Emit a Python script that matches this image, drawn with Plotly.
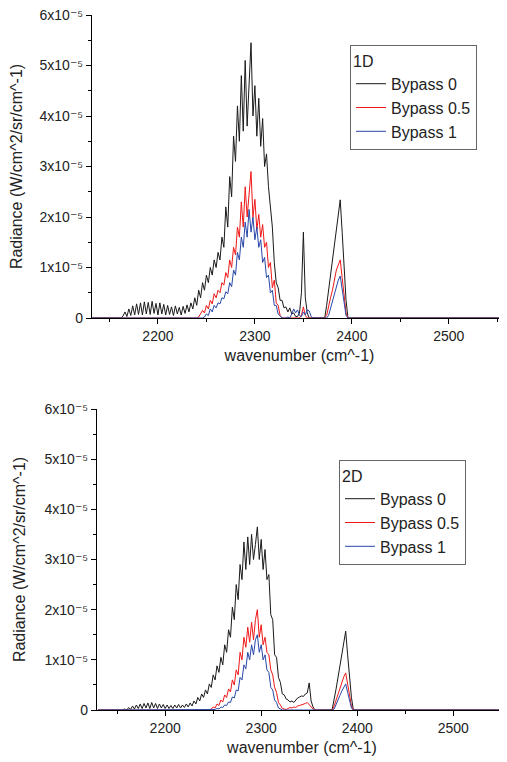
import plotly.graph_objects as go

# Wavenumber sampling grid (cm^-1); radiance values below are in units of 1e-6 W/cm^2/sr/cm^-1
WN = list(range(2130, 2402, 2)) + [2560]

# ---- 1D case ----
D1_BYPASS_0 = [
    0, 0, 0, 0, 0, 0, 0, 0, 0, 0,
    0, 0, 0, 0, 0, 0, 0, 0.4, 1.2, 0.3,
    1.8, 0.5, 2.4, 0.6, 2.8, 0.7, 3.0, 0.6, 3.2, 0.8,
    3.1, 0.7, 3.3, 0.9, 2.9, 0.6, 3.0, 0.8, 2.7, 0.6,
    2.5, 0.7, 2.2, 0.5, 2.4, 0.8, 2.1, 0.6, 2.3, 0.9,
    2.6, 1.2, 3.0, 1.8, 4.0, 2.5, 5.5, 4.0, 7.0, 5.5,
    8.5, 7.0, 10, 8.5, 11.5, 10, 13, 11.5, 16, 14,
    22, 18, 28, 24, 36, 31, 42, 35, 48, 37,
    51, 38, 47, 54.5, 40, 46, 36, 43.5, 34, 39.5,
    30, 32.5, 26, 22, 18, 11, 7, 6, 3.5, 3.5,
    2, 2.2, 1.2, 2.0, 0.8, 1.0, 0.3, 0.3, 1.0, 5,
    17, 4, 1, 0, 0, 0, 0, 0, 0, 0,
    0, 0, 2.5, 5.5, 8.5, 11.5, 14.5, 17.5, 20.5, 23.4,
    17, 10, 3.5, 0, 0, 0,
    0,
]
D1_BYPASS_05 = [
    0, 0, 0, 0, 0, 0, 0, 0, 0, 0,
    0, 0, 0, 0, 0, 0, 0, 0, 0, 0,
    0, 0, 0, 0, 0, 0, 0, 0, 0, 0,
    0, 0, 0, 0, 0, 0, 0, 0, 0, 0,
    0, 0, 0, 0, 0, 0, 0, 0, 0, 0,
    0, 0, 0, 0, 0, 0, 0.2, 0.8, 1.5, 1.0,
    2.5, 1.8, 3.5, 2.8, 4.8, 4.0, 5.5, 5.0, 7.0, 6.5,
    9, 8, 11.5, 10, 14, 12.5, 18, 16, 23, 18,
    26, 20, 25, 29, 20, 23.5, 17.5, 20.5, 16, 18.5,
    14, 15, 10, 11, 6, 7.5, 3, 2.5, 0.5, 0,
    0, 0, 0, 0, 0, 0, 0, 0, 0, 0.5,
    2.2, 0.5, 0, 0, 0, 0, 0, 0, 0, 0,
    0, 0, 0.5, 2.5, 4.0, 5.5, 7.5, 9.5, 10.5, 11.5,
    8, 4.5, 1, 0, 0, 0,
    0,
]
D1_BYPASS_1 = [
    0, 0, 0, 0, 0, 0, 0, 0, 0, 0,
    0, 0, 0, 0, 0, 0, 0, 0, 0, 0,
    0, 0, 0, 0, 0, 0, 0, 0, 0, 0,
    0, 0, 0, 0, 0, 0, 0, 0, 0, 0,
    0, 0, 0, 0, 0, 0, 0, 0, 0, 0,
    0, 0, 0, 0, 0, 0, 0, 0, 0, 0.2,
    0.8, 0.5, 1.8, 1.2, 2.5, 2.0, 3.0, 2.8, 4.0, 3.8,
    5.2, 4.8, 7, 6.2, 9.5, 8.5, 13, 11.5, 16, 14,
    19, 16, 21.5, 17, 20, 15.5, 18, 14, 15.5, 11,
    12, 8, 8.5, 5, 5.5, 2.5, 2.5, 0.8, 0.3, 0,
    0, 0, 0.2, 0, 0.8, 1.8, 1.0, 1.6, 0.5, 0.3,
    1.2, 0.6, 1.6, 1.4, 0.3, 0, 0, 0, 0, 0,
    0, 0, 0, 0.5, 2, 3.5, 5, 6.5, 7.5, 8.3,
    5.5, 2.5, 0.5, 0, 0, 0,
    0,
]

# ---- 2D case ----
D2_BYPASS_0 = [
    0, 0, 0, 0, 0, 0, 0, 0, 0, 0,
    0, 0, 0, 0, 0.2, 0, 0.5, 0.1, 0.8, 0.2,
    1.0, 0.3, 1.2, 0.3, 1.3, 0.4, 1.4, 0.3, 1.5, 0.4,
    1.3, 0.3, 1.2, 0.4, 1.1, 0.3, 1.0, 0.3, 0.9, 0.3,
    1.0, 0.4, 1.1, 0.4, 1.0, 0.5, 1.2, 0.6, 1.4, 0.8,
    1.8, 1.2, 2.5, 1.8, 3.2, 2.5, 4.0, 3.2, 5.2, 4.5,
    7.0, 6.0, 8.8, 7.5, 10.5, 9.0, 13, 11.5, 16, 14.5,
    20.5, 18, 25, 22, 29, 26, 33.5, 28, 34.5, 29,
    35, 30, 33, 36.5, 30, 34, 28, 32, 26, 27,
    19, 18, 11, 10.5, 6.5, 5.5, 3.2, 3.0, 2.2, 2.0,
    1.6, 1.8, 1.5, 2.0, 2.4, 2.6, 2.8, 2.7, 3.2, 3.4,
    5.4, 1.8, 0.6, 0, 0, 0, 0, 0, 0, 0,
    0, 0, 0.2, 2.0, 4.2, 6.5, 8.8, 11.2, 13.8, 15.7,
    11, 6.5, 2.5, 0, 0, 0,
    0,
]
D2_BYPASS_05 = [
    0, 0, 0, 0, 0, 0, 0, 0, 0, 0,
    0, 0, 0, 0, 0, 0, 0, 0, 0, 0,
    0, 0, 0, 0, 0, 0, 0, 0, 0, 0,
    0, 0, 0, 0, 0, 0, 0, 0, 0, 0,
    0, 0, 0, 0, 0, 0, 0, 0, 0, 0,
    0, 0, 0, 0, 0, 0, 0, 0, 0, 0.2,
    0.6, 0.4, 1.2, 0.9, 2.0, 1.6, 3.0, 2.5, 4.2, 3.6,
    6.0, 5.0, 8.0, 7.0, 11.5, 10, 14.5, 12.5, 16.5, 13.5,
    17.5, 14, 18, 20, 14.5, 17, 13, 14.5, 11.5, 11,
    8, 7, 4.5, 3.5, 1.5, 1.0, 0.3, 0.2, 0.1, 0.3,
    0.5, 0.4, 0.6, 0.5, 0.8, 0.9, 1.0, 1.1, 1.3, 1.5,
    1.0, 0.6, 0.2, 0, 0, 0, 0, 0, 0, 0,
    0, 0, 0, 0.8, 2.0, 3.1, 4.2, 5.4, 6.6, 7.4,
    5.0, 2.8, 0.8, 0, 0, 0,
    0,
]
D2_BYPASS_1 = [
    0, 0, 0, 0, 0, 0, 0, 0, 0, 0,
    0, 0, 0, 0, 0, 0, 0, 0, 0, 0,
    0, 0, 0, 0, 0, 0, 0, 0, 0, 0,
    0, 0, 0, 0, 0, 0, 0, 0, 0, 0,
    0, 0, 0, 0, 0, 0, 0, 0, 0, 0,
    0, 0, 0, 0, 0, 0, 0, 0, 0, 0,
    0, 0.1, 0.3, 0.2, 0.6, 0.5, 1.0, 0.9, 1.6, 1.5,
    2.6, 2.4, 4.0, 3.8, 6.5, 6.0, 9.0, 8.2, 11.5, 10,
    13, 11, 14, 15, 11.5, 13, 10, 11, 8, 7.5,
    4.5, 4.0, 2.0, 1.5, 0.4, 0.2, 0, 0, 0, 0,
    0, 0, 0, 0, 0, 0, 0, 0, 0, 0,
    0, 0, 0, 0, 0, 0, 0, 0, 0, 0,
    0, 0, 0, 0.2, 1.0, 2.0, 2.9, 3.8, 4.6, 5.2,
    3.5, 1.8, 0.4, 0, 0, 0,
    0,
]

SERIES_NAMES = ["Bypass 0", "Bypass 0.5", "Bypass 1"]
X_TICKS = [2200, 2300, 2400, 2500]
X_MINOR = [2150, 2250, 2350, 2450, 2550]
Y_TICKS = [0, 10, 20, 30, 40, 50, 60]
Y_TICKTEXT = ["0", "1x10⁻⁵", "2x10⁻⁵", "3x10⁻⁵", "4x10⁻⁵", "5x10⁻⁵", "6x10⁻⁵"]
Y_MINOR = [5, 15, 25, 35, 45, 55]

COLORS = ["#1a1a1a", "#f01818", "#2a48a8"]

for s in (D1_BYPASS_0, D1_BYPASS_05, D1_BYPASS_1, D2_BYPASS_0, D2_BYPASS_05, D2_BYPASS_1):
    assert len(s) == len(WN), (len(s), len(WN))

fig = go.Figure()
for vals, name, col in zip((D1_BYPASS_0, D1_BYPASS_05, D1_BYPASS_1), SERIES_NAMES, COLORS):
    fig.add_trace(go.Scatter(x=WN, y=vals, mode="lines", name=name,
                             line=dict(color=col, width=1),
                             xaxis="x", yaxis="y", legend="legend"))
for vals, name, col in zip((D2_BYPASS_0, D2_BYPASS_05, D2_BYPASS_1), SERIES_NAMES, COLORS):
    fig.add_trace(go.Scatter(x=WN, y=vals, mode="lines", name=name,
                             line=dict(color=col, width=1),
                             xaxis="x2", yaxis="y2", legend="legend2"))

FONT = "Liberation Sans, Arial, DejaVu Sans, sans-serif"
W, H = 507, 762
OFF = 8  # page body margin: screen pixel p sits at figure pixel p - OFF


def px_x(p):
    return (p - OFF) / W


def px_y(p):
    return 1 - (p - OFF) / H


def xaxis(domain, anchor, rng):
    return dict(domain=domain, anchor=anchor, range=rng, automargin=False,
                tickmode="array", tickvals=X_TICKS, ticklabeloverflow="allow",
                ticks="outside", ticklen=5, tickwidth=1, tickcolor="black",
                showline=True, linecolor="black", linewidth=1.2,
                showgrid=False, zeroline=False,
                tickfont=dict(size=14, color="#222"),
                minor=dict(tickmode="array", tickvals=X_MINOR, ticks="outside",
                           ticklen=3, tickcolor="black", showgrid=False),
                title=dict(text="wavenumber (cm^-1)", font=dict(size=16, color="#222"),
                           standoff=6))


def yaxis(domain, anchor):
    return dict(domain=domain, anchor=anchor, range=[0, 60], automargin=False,
                tickmode="array", tickvals=Y_TICKS, ticktext=Y_TICKTEXT,
                ticklabeloverflow="allow",
                ticks="outside", ticklen=5, tickwidth=1, tickcolor="black",
                showline=True, linecolor="black", linewidth=1.2,
                showgrid=False, zeroline=False,
                tickfont=dict(size=14, color="#222"),
                minor=dict(tickmode="array", tickvals=Y_MINOR, ticks="outside",
                           ticklen=3, tickcolor="black", showgrid=False),
                title=dict(text="Radiance (W/cm^2/sr/cm^-1)", font=dict(size=16, color="#222"),
                           standoff=14))


def legend(x, y, title):
    return dict(x=x, y=y, xanchor="left", yanchor="top",
                title=dict(text=title, font=dict(size=16, color="#222")),
                font=dict(size=16, color="#222"),
                bordercolor="#666", borderwidth=1, bgcolor="white",
                tracegroupgap=0, itemwidth=30)


fig.update_layout(
    width=W, height=H, autosize=False,
    margin=dict(l=0, r=0, t=0, b=0, pad=0, autoexpand=False),
    paper_bgcolor="white", plot_bgcolor="white",
    font=dict(family=FONT, color="#222"),
    showlegend=True,
    xaxis=xaxis([px_x(92), px_x(507)], "y", [2132, 2560]),
    yaxis=yaxis([px_y(318), px_y(15)], "x"),
    xaxis2=xaxis([px_x(97), px_x(507)], "y2", [2129, 2556]),
    yaxis2=yaxis([px_y(710), px_y(409)], "x2"),
    legend=legend(px_x(350), px_y(45), "1D"),
    legend2=legend(px_x(339), px_y(460), "2D"),
)

fig.write_html("out.html")
